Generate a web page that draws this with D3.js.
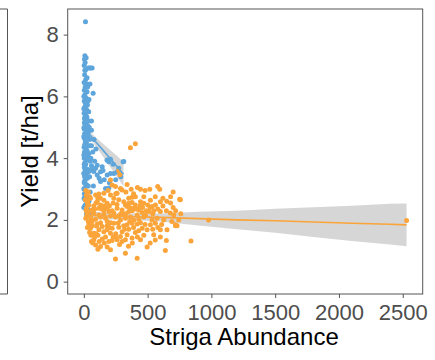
<!DOCTYPE html>
<html><head><meta charset="utf-8">
<script src="https://cdn.jsdelivr.net/npm/d3@7"></script>
<style>body{margin:0;background:#fff}text{font-family:"Liberation Sans",Arial,sans-serif}</style>
</head><body>
<svg id="c" width="435" height="360"></svg>
<script>
// ---- data ----
const blueX=[13,73,65,55,45,35,8,5,10,3,12,6,15,2,20,10,30,4,25,8,18,40,3,12,28,6,20,35,2,14,24,8,40,4,18,30,10,2,22,36,6,15,28,3,45,12,20,8,34,2,16,25,5,40,12,30,3,20,50,8,15,60,4,25,10,35,2,18,6,28,12,3,20,8,15,4,25,10,30,6,20,21,45,13,16,
  52,92,105,144,183,196,209,235,274,308,131,170,209,183,131,105,70,80,60,75,250,200,78,313,196,183,
  0,5,2,0,7,0,3,0,5,0,2,0,38,42,48,55,32,22,45,35,50,40,30,15,65,85,95,60,25,18,0,8,48,32,60,120,150,160,230,260,290];
const blueY=[8.42,6.10,6.92,6.92,6.92,6.92,7.32,7.20,7.10,7.00,6.85,6.70,6.55,6.45,6.40,6.30,6.30,6.20,6.15,6.05,5.95,5.90,5.85,5.78,5.72,5.65,5.58,5.50,5.45,5.40,5.33,5.25,5.20,5.15,5.10,5.05,5.00,4.95,4.90,4.85,4.80,4.75,4.70,4.65,4.60,4.55,4.50,4.45,4.40,4.35,4.30,4.25,4.20,4.15,4.10,4.05,4.00,3.95,3.90,3.85,3.80,3.75,3.70,3.65,3.60,3.55,3.50,3.45,3.40,3.35,3.30,3.20,3.15,3.05,2.95,2.85,2.75,2.65,2.55,2.45,2.30,2.19,2.20,2.87,2.76,
  3.61,3.67,3.45,3.72,3.94,3.88,3.96,3.50,3.67,3.88,3.24,3.02,3.50,3.45,3.56,3.77,4.20,4.60,4.90,3.10,3.30,3.20,3.57,3.89,3.03,3.93,
  5.60,5.30,5.00,4.70,4.40,4.10,3.80,3.50,3.25,3.00,2.70,2.40,5.50,5.00,4.40,4.00,4.70,3.95,3.40,3.10,2.90,2.60,2.35,2.50,3.70,3.90,4.30,4.40,6.60,7.25,6.00,6.85,6.40,5.85,5.20,3.35,3.60,3.30,3.80,3.55,3.40];
const orangeX=[365,404,274,282,209,339,371,444,517,579,595,600,751,757,222,248,287,300,261,209,157,118,92,52,26,39,21,65,105,131,157,183,235,274,313,326,352,378,404,444,470,501,535,561,522,470,404,378,352,392,431,457,509,548,600,647,678,705,744,731,718,652,600,561,522,496,444,418,378,339,313,274,235,209,183,131,105,65,52,78,118,157,183,209,248,287,339,378,404,444,496,326,300,261,222,196,144,92,131,183,209,248,326,418,639,647,840,
  39,78,118,157,196,235,274,313,352,365,326,287,248,209,170,131,92,52,26,65,157,118,78,183,222,261,300,339,418,470,574,626,535,483,431,392,144,183,222,300,352,457,548,78,978,2530,718,35,45,30,
  15,20,12,30,18,25,15,35,40,28,45,55,60,70,85,95,110,100,60,70,85,95,110,130,140,160,200,230,260,290,330,360,380,410,440,460,490,520,540,580,620,650,680,700,720,760,690,610,580,540,480,430,390,360,320,270,250,230,200,170,160,120,110,280,350,380,420,470,520,560,600,480,420,390,330,250,190,560,620,700,680];
const orangeY=[4.34,4.47,3.59,3.46,3.29,3.15,2.99,2.99,2.99,3.08,2.99,2.59,2.67,2.65,3.13,3.08,3.02,2.97,2.86,2.81,2.86,2.84,2.81,2.70,2.59,2.48,2.38,2.32,2.59,2.48,2.64,2.54,2.70,2.65,2.59,2.48,2.54,2.56,2.48,2.59,2.54,2.48,2.43,2.48,2.64,2.75,2.75,2.73,2.70,2.38,2.32,2.24,2.27,2.30,2.27,2.30,2.22,2.16,2.00,1.81,1.81,1.68,1.68,1.89,1.84,1.68,1.91,1.87,1.89,1.84,1.81,1.76,1.89,1.91,1.95,1.91,1.87,1.81,1.73,1.57,1.68,1.62,1.68,1.57,1.46,1.46,1.52,1.41,1.59,1.36,1.12,1.36,1.30,1.36,1.33,1.30,1.38,1.19,1.14,1.12,1.03,0.73,0.92,0.76,1.01,1.33,1.32,
  2.27,2.22,2.16,2.19,2.27,2.22,2.13,2.19,2.27,2.09,2.05,2.00,2.09,2.13,2.05,2.09,2.02,2.09,2.16,1.95,2.32,2.38,2.45,2.38,2.30,2.38,2.32,2.43,2.16,2.09,2.05,2.00,2.00,2.16,2.02,2.00,1.79,1.81,1.73,1.62,1.70,1.73,1.52,1.36,2.00,1.98,1.84,2.90,2.75,2.62,
  2.95,2.80,2.65,2.50,2.30,2.15,2.05,1.95,1.85,1.75,1.60,1.50,1.30,1.25,1.45,1.55,1.50,1.80,2.00,2.25,2.35,2.55,2.70,2.70,2.35,2.45,2.45,2.55,2.50,2.20,2.20,2.40,2.30,2.35,2.45,2.40,2.30,2.40,2.20,2.35,2.45,2.60,2.55,2.40,2.30,2.20,1.95,1.85,1.75,1.70,1.85,1.65,1.75,1.95,1.70,1.90,1.55,1.45,1.75,1.45,1.25,1.30,1.05,1.20,1.15,1.25,1.45,1.50,1.25,1.35,1.45,2.95,3.05,2.85,2.90,2.85,2.95,2.75,2.70,2.90,2.75];
// fitted lines with confidence band
const blueFitX=[0,50,100,150,200,250,311];
const blueFitY=[4.98,4.74,4.50,4.26,4.02,3.78,3.48];
const blueFitHalf=[0.12,0.10,0.15,0.21,0.27,0.33,0.40];
const orangeFitX=[15,300,600,900,1200,1500,1800,2100,2400,2530];
const orangeFitY=[2.15,2.11,2.08,2.04,2.00,1.97,1.93,1.89,1.86,1.84];
const orangeFitHalf=[0.13,0.10,0.13,0.22,0.30,0.39,0.48,0.57,0.66,0.69];
const xTicks=[0,500,1000,1500,2000,2500];
const yTicks=[0,2,4,6,8];
const xTitle="Striga Abundance", yTitle="Yield [t/ha]";

// ---- drawing ----
const BLUE="#5DA5DA", ORANGE="#FAA43A", FRAME="#555555";
const P={l:67.7,r:422.7,t:9,b:294};
const x=d3.scaleLinear().domain([-126.5,2656.5]).range([P.l,P.r]);
const y=d3.scaleLinear().domain([-0.40,8.83]).range([P.b,P.t]);
const svg=d3.select("#c");

svg.append("defs").append("clipPath").attr("id","clip")
  .append("rect").attr("x",P.l).attr("y",P.t).attr("width",P.r-P.l).attr("height",P.b-P.t);

// left neighbouring panel edge
svg.append("path").attr("d",`M0,${P.t}H7.5V${P.b}H0`).attr("fill","none").attr("stroke",FRAME).attr("stroke-width",1);

const g=svg.append("g").attr("clip-path","url(#clip)");
function band(X,Y,H){
  const d=X.map((v,i)=>({x:v,y:Y[i],h:H[i]}));
  g.append("path").datum(d).attr("fill","#999999").attr("fill-opacity",0.4)
   .attr("d",d3.area().x(p=>x(p.x)).y0(p=>y(p.y-p.h)).y1(p=>y(p.y+p.h)));
  return d;
}
const bd=band(blueFitX,blueFitY,blueFitHalf);
const od=band(orangeFitX,orangeFitY,orangeFitHalf);
function pts(X,Y,col){
  g.append("g").selectAll("circle").data(X.map((v,i)=>[v,Y[i]])).join("circle")
   .attr("cx",p=>x(p[0])).attr("cy",p=>y(p[1])).attr("r",2.5).attr("fill",col);
}
pts(blueX,blueY,BLUE);
pts(orangeX,orangeY,ORANGE);
const ln=d3.line().x(p=>x(p.x)).y(p=>y(p.y));
g.append("path").datum(bd).attr("fill","none").attr("stroke",BLUE).attr("stroke-width",1.6).attr("d",ln);
g.append("path").datum(od).attr("fill","none").attr("stroke",ORANGE).attr("stroke-width",1.6).attr("d",ln);

// panel border
svg.append("rect").attr("x",P.l).attr("y",P.t).attr("width",P.r-P.l).attr("height",P.b-P.t)
  .attr("fill","none").attr("stroke",FRAME).attr("stroke-width",1);

// axes
const ax=svg.append("g").attr("transform",`translate(0,${P.b})`)
  .call(d3.axisBottom(x).tickValues(xTicks).tickFormat(d3.format("d")).tickSize(4).tickPadding(6));
const ay=svg.append("g").attr("transform",`translate(${P.l},0)`)
  .call(d3.axisLeft(y).tickValues(yTicks).tickSize(4).tickPadding(5));
[ax,ay].forEach(a=>{
  a.select(".domain").remove();
  a.selectAll(".tick line").attr("stroke",FRAME);
  a.selectAll(".tick text").attr("fill","#4D4D4D").style("font-size","22px").style("font-family","'Liberation Sans',Arial,sans-serif");
});

svg.append("text").attr("x",244).attr("y",345).attr("text-anchor","middle")
  .style("font-size","24px").attr("fill","#000").text(xTitle);
svg.append("text").attr("transform",`translate(38,${(P.t+P.b)/2}) rotate(-90)`).attr("text-anchor","middle")
  .style("font-size","24px").attr("fill","#000").text(yTitle);
</script>
</body></html>
